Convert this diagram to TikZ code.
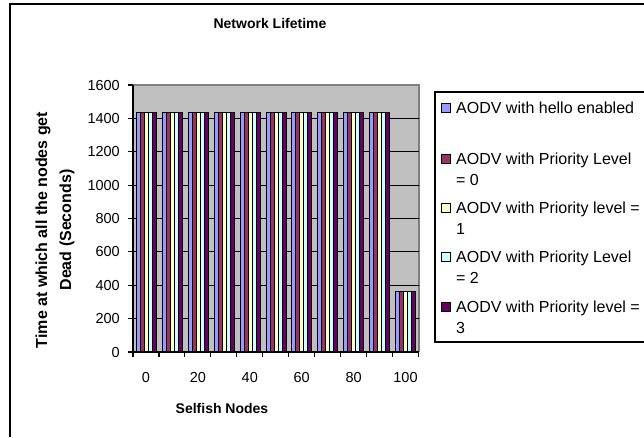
\documentclass[tikz,border=0pt]{standalone}
\usepackage{fontspec}
\setmainfont{Liberation Sans}
\usetikzlibrary{positioning}
\definecolor{HelloBlue}{HTML}{9999FF}
\definecolor{PrioZero}{HTML}{993366}
\definecolor{PrioOne}{HTML}{FFFFCC}
\definecolor{PrioTwo}{HTML}{CCFFFF}
\definecolor{PrioThree}{HTML}{660066}
\definecolor{PlotGray}{HTML}{C0C0C0}
\definecolor{EdgeGray}{HTML}{808080}

\begin{document}
\begin{tikzpicture}[
    x=1pt, y=-1pt,
    every node/.style={inner sep=0pt},
    ticklabel/.style={font=\fontsize{14.5}{16}\selectfont},
    axistitle/.style={font=\bfseries\fontsize{14}{16}\selectfont, align=center},
    legtext/.style={font=\fontsize{16}{21}\selectfont, align=left, anchor=west},
    legmark/.style={draw=black, line width=0.6pt, minimum size=9pt, inner sep=0pt},
    bar/.style={draw=black, line width=0.5pt},
    gridline/.style={draw=black, line width=1.1pt},
    axisline/.style={draw=black, line width=1.1pt}
  ]
    \useasboundingbox (0,0) rectangle (644,437);

    % Chart frame
    \draw[line width=1.5pt] (10,437) -- (10,4) -- (644,4);

    % Plot area
    \fill[PlotGray] (133,85) rectangle (419,352);
    \draw[EdgeGray, line width=1.5pt] (133,85) -- (419,85) -- (419,352);
    \foreach \v in {200,400,...,1400}
      \draw[gridline] (133,{352-\v*0.166875}) -- (419,{352-\v*0.166875});

    % Bars
    \foreach \k/\val in {0/1435,1/1435,2/1435,3/1435,4/1435,5/1435,6/1435,7/1435,8/1435,9/1435,10/362}
      \foreach \i/\col in {0/HelloBlue,1/PrioZero,2/PrioOne,3/PrioTwo,4/PrioThree}
        \filldraw[bar, fill=\col] ({136+\k*25.95+\i*4},352) rectangle ++(4,{-\val*0.166875});

    % Axes
    \draw[axisline] (133,85) -- (133,352) -- (419,352);
    \foreach \v in {0,200,...,1600} {
      \draw[axisline] (128,{352-\v*0.166875}) -- (133,{352-\v*0.166875});
      \node[ticklabel, anchor=east] (y\v) at (120,{352-\v*0.166875}) {\v};
    }
    \foreach \k in {0,...,11}
      \draw[axisline] ({133+\k*25.95},352) -- ++(0,5);
    \foreach \k/\lab in {0/0,2/20,4/40,6/60,8/80,10/100}
      \node[ticklabel] (x\lab) at ({133+(\k+0.5)*25.95},377) {\lab};

    % Titles
    \node[font=\bfseries\fontsize{14}{16}\selectfont] (title) at (270,23) {Network Lifetime};
    \node[axistitle] (xtitle) at (222,408) {Selfish Nodes};
    \node[axistitle, rotate=90, font=\bfseries\fontsize{16}{24}\selectfont] (ytitle) at (55,230)
      {Time at which all the nodes get\\Dead (Seconds)};

    % Legend
    \draw[line width=1.2pt] (644,92) -- (435,92) -- (435,342) -- (644,342);
    \node[legmark, fill=HelloBlue] (m1) at (445.5,108) {};
    \node[legmark, fill=PrioZero] (m2) at (445.5,159) {};
    \node[legmark, fill=PrioOne] (m3) at (445.5,208) {};
    \node[legmark, fill=PrioTwo] (m4) at (445.5,257) {};
    \node[legmark, fill=PrioThree] (m5) at (445.5,307) {};
    \node[legtext] (l1) at (456,108) {AODV with hello enabled};
    \node[legtext] (l2) at (456,169.5) {AODV with Priority Level\\= 0};
    \node[legtext] (l3) at (456,218.5) {AODV with Priority level =\\1};
    \node[legtext] (l4) at (456,267.5) {AODV with Priority Level\\= 2};
    \node[legtext] (l5) at (456,317.5) {AODV with Priority level =\\3};
  \end{tikzpicture}
\end{document}
